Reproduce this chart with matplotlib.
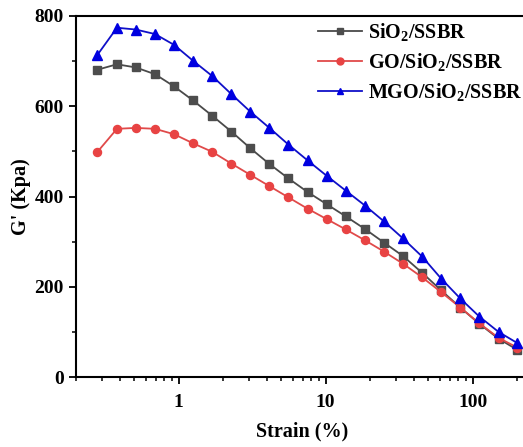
import matplotlib
matplotlib.use("Agg")
import matplotlib.pyplot as plt
from matplotlib.ticker import MultipleLocator, LogLocator, FixedLocator, NullFormatter

plt.rcParams["font.family"] = ["Liberation Serif", "DejaVu Serif"]
plt.rcParams["font.weight"] = "bold"
plt.rcParams["mathtext.fontset"] = "custom"
plt.rcParams["mathtext.rm"] = "Liberation Serif:bold"
plt.rcParams["mathtext.bf"] = "Liberation Serif:bold"
plt.rcParams["mathtext.it"] = "Liberation Serif:bold"

# Strain sweep (%)
strain = [0.28, 0.38, 0.51, 0.69, 0.93, 1.25, 1.69, 2.28, 3.07, 4.14, 5.58, 7.53,
          10.15, 13.7, 18.5, 24.9, 33.6, 45.3, 61.1, 82.4, 111, 150, 202]

# Storage modulus G' (kPa)
g_sio2 = [681, 693, 686, 671, 644, 613, 579, 544, 507, 472, 440, 410,
          383, 356, 328, 298, 268, 231, 192, 154, 118, 85, 60]
g_go = [499, 550, 552, 550, 538, 518, 499, 473, 448, 423, 398, 373,
        350, 327, 303, 278, 251, 221, 188, 154, 119, 87, 65]
g_mgo = [714, 774, 770, 760, 736, 701, 667, 627, 588, 552, 515, 480,
         446, 413, 380, 345, 307, 267, 218, 174, 134, 100, 75]

labels = [r"SiO$_\mathregular{2}$/SSBR",
          r"GO/SiO$_\mathregular{2}$/SSBR",
          r"MGO/SiO$_\mathregular{2}$/SSBR"]

fig = plt.figure(figsize=(5.23, 4.47), dpi=100)
ax = fig.add_axes([76 / 523, 70 / 447, (528.5 - 76) / 523, 361 / 447])

ax.plot(strain, g_sio2, color="#4a4a4a", marker="s", markersize=5.2, lw=1.3,
        markerfacecolor="#4d4d4d", markeredgecolor="#4d4d4d", label=labels[0])
ax.plot(strain, g_go, color="#e04a4a", marker="o", markersize=5.8, lw=1.3,
        markerfacecolor="#e84343", markeredgecolor="#e84343", label=labels[1])
ax.plot(strain, g_mgo, color="#1010c8", marker="^", markersize=6.8, lw=1.3,
        markerfacecolor="#0000e0", markeredgecolor="#0000e0", label=labels[2])

ax.set_xscale("log")
ax.set_xlim(0.2, 240)
ax.set_ylim(0, 800)
ax.xaxis.set_major_locator(FixedLocator([1, 10, 100]))
ax.set_xticklabels(["1", "10", "100"])
ax.xaxis.set_minor_locator(LogLocator(base=10, subs=range(2, 10), numticks=20))
ax.xaxis.set_minor_formatter(NullFormatter())
ax.yaxis.set_major_locator(MultipleLocator(200))
ax.yaxis.set_minor_locator(MultipleLocator(100))

for side in ["left", "bottom", "top", "right"]:
    ax.spines[side].set_linewidth(1.5)
ax.tick_params(axis="both", which="major", direction="out", length=5, width=1.3,
               labelsize=14, top=False, right=False)
ax.tick_params(axis="both", which="minor", direction="out", length=3, width=1.1,
               top=False, right=False)
ax.tick_params(axis="x", which="major", pad=7)
ax.tick_params(axis="y", which="major", pad=4)

ax.set_xlabel("Strain (%)", fontsize=14.5, fontweight="bold", labelpad=8)
ax.set_ylabel("G' (Kpa)", fontsize=14.5, fontweight="bold", labelpad=2)

leg = fig.legend(loc="upper left", bbox_to_anchor=(310 / 523, 1 - 12.5 / 447),
                 frameon=False, fontsize=14.5, handlelength=2.19,
                 handletextpad=0.3, labelspacing=0.4, borderaxespad=0)
for h in leg.legend_handles:
    h.set_markersize(5)

fig.savefig("out.png", dpi=100)
